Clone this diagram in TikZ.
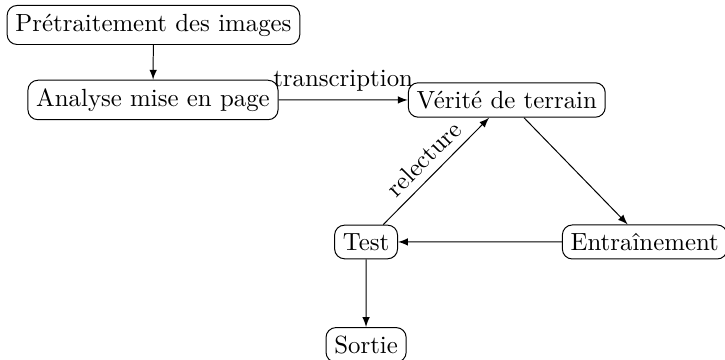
\documentclass[tikz,border=0pt]{standalone}
\usepackage{amsmath,amssymb}
\usepackage{tikz}

\begin{document}
\begin{tikzpicture}[scale=0.966, >=latex, etape/.style={draw, rounded corners}]
  \useasboundingbox (0,0) rectangle (10.615,-5.271);
  % etapes
  \node[etape] (pretrait) at (2.247,-0.366) {Prétraitement des images};
  \node[etape] (analyse) at (2.24,-1.464) {Analyse mise en page};
  \node[etape] (verite) at (7.42,-1.464) {Vérité de terrain};
  \node[etape] (test) at (5.36,-3.543) {Test};
  \node[etape] (entrain) at (9.44,-3.543) {Entraînement};
  \node[etape] (sortie) at (5.36,-5.05) {Sortie};
  % fleches
  \draw[->] (pretrait) -- (analyse);
  \draw[->] (analyse) -- node[above] {transcription} (verite);
  \draw[->] (verite) -- (entrain);
  \draw[->] (entrain) -- (test);
  \draw[->] (test) -- node[above, sloped] {relecture} (verite);
  \draw[->] (test) -- (sortie);
\end{tikzpicture}
\end{document}
